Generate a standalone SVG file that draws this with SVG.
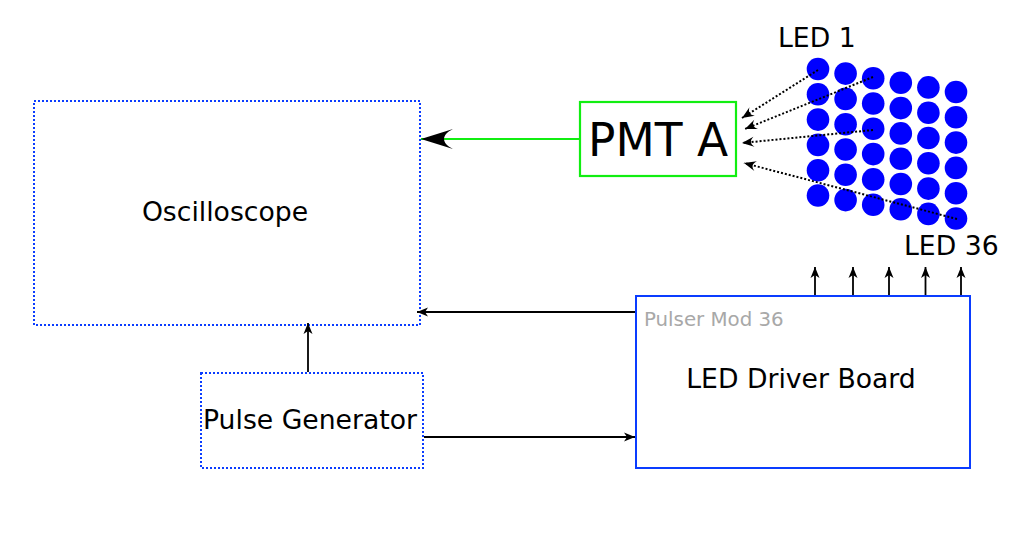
<svg xmlns="http://www.w3.org/2000/svg" width="1031" height="536" viewBox="0 0 1031 536">
<style>
text{font-family:"DejaVu Sans","Liberation Sans",sans-serif;fill:#000}
.lbl{font-size:26.67px}
.dotbox{fill:#fff;stroke:#0a3cff;stroke-width:2;stroke-dasharray:2 2}
.led{fill:#0000ff}
.wire{stroke:#000;stroke-width:1.8;fill:none;marker-end:url(#sm)}
.ray{stroke:#000;stroke-width:2;fill:none;stroke-dasharray:2 2;marker-end:url(#md)}
</style>
<defs>
<marker id="sm" markerUnits="userSpaceOnUse" orient="auto" markerWidth="14" markerHeight="12" viewBox="-12 -6 14 12" refX="0" refY="0" overflow="visible">
<path d="M0,0 L-11,-4.5 L-8,0 L-11,4.5 Z" fill="#000"/>
</marker>
<marker id="md" markerUnits="userSpaceOnUse" orient="auto" markerWidth="14" markerHeight="12" viewBox="-12 -6 14 12" refX="0" refY="0" overflow="visible">
<path d="M0,0 L-12,-5 C-8,-1.5 -8,1.5 -12,5 Z" fill="#000"/>
</marker>
<marker id="lg" markerUnits="userSpaceOnUse" orient="auto" markerWidth="34" markerHeight="22" viewBox="-33 -11 34 22" refX="0" refY="0" overflow="visible">
<path d="M0,0 L-32,-10 C-20,-4 -20,4 -32,10 Z" fill="#000"/>
</marker>
</defs>

<g id="oscilloscope">
<rect class="dotbox" x="34" y="101" width="386" height="224"/>
<text class="lbl" x="225" y="221" text-anchor="middle">Oscilloscope</text>
</g>

<g id="pmt">
<rect x="580" y="102" width="156" height="74" fill="#fff" stroke="#11ee11" stroke-width="2.2"/>
<text x="658" y="156" font-size="45.5" text-anchor="middle">PMT A</text>
</g>

<g id="pulse-generator">
<rect class="dotbox" x="201" y="373" width="222" height="95"/>
<text class="lbl" x="310" y="429" text-anchor="middle">Pulse Generator</text>
</g>

<g id="led-driver">
<rect x="636" y="296" width="334" height="172" fill="#fff" stroke="#0a3cff" stroke-width="2"/>
<text x="644" y="326" font-size="19.8" style="fill:#a8a8a8">Pulser Mod 36</text>
<text class="lbl" x="801" y="388" text-anchor="middle">LED Driver Board</text>
</g>

<g id="led-array">
<g transform="translate(818,69)">
<circle class="led" cx="0" cy="0" r="11.3"/><circle class="led" cx="0" cy="25.3" r="11.3"/><circle class="led" cx="0" cy="50.6" r="11.3"/><circle class="led" cx="0" cy="75.9" r="11.3"/><circle class="led" cx="0" cy="101.2" r="11.3"/><circle class="led" cx="0" cy="126.5" r="11.3"/>
</g>
<g transform="translate(845.6,73.6)">
<circle class="led" cx="0" cy="0" r="11.3"/><circle class="led" cx="0" cy="25.3" r="11.3"/><circle class="led" cx="0" cy="50.6" r="11.3"/><circle class="led" cx="0" cy="75.9" r="11.3"/><circle class="led" cx="0" cy="101.2" r="11.3"/><circle class="led" cx="0" cy="126.5" r="11.3"/>
</g>
<g transform="translate(873.2,78.2)">
<circle class="led" cx="0" cy="0" r="11.3"/><circle class="led" cx="0" cy="25.3" r="11.3"/><circle class="led" cx="0" cy="50.6" r="11.3"/><circle class="led" cx="0" cy="75.9" r="11.3"/><circle class="led" cx="0" cy="101.2" r="11.3"/><circle class="led" cx="0" cy="126.5" r="11.3"/>
</g>
<g transform="translate(900.8,82.8)">
<circle class="led" cx="0" cy="0" r="11.3"/><circle class="led" cx="0" cy="25.3" r="11.3"/><circle class="led" cx="0" cy="50.6" r="11.3"/><circle class="led" cx="0" cy="75.9" r="11.3"/><circle class="led" cx="0" cy="101.2" r="11.3"/><circle class="led" cx="0" cy="126.5" r="11.3"/>
</g>
<g transform="translate(928.4,87.4)">
<circle class="led" cx="0" cy="0" r="11.3"/><circle class="led" cx="0" cy="25.3" r="11.3"/><circle class="led" cx="0" cy="50.6" r="11.3"/><circle class="led" cx="0" cy="75.9" r="11.3"/><circle class="led" cx="0" cy="101.2" r="11.3"/><circle class="led" cx="0" cy="126.5" r="11.3"/>
</g>
<g transform="translate(956,92)">
<circle class="led" cx="0" cy="0" r="11.3"/><circle class="led" cx="0" cy="25.3" r="11.3"/><circle class="led" cx="0" cy="50.6" r="11.3"/><circle class="led" cx="0" cy="75.9" r="11.3"/><circle class="led" cx="0" cy="101.2" r="11.3"/><circle class="led" cx="0" cy="126.5" r="11.3"/>
</g>
<text class="lbl" x="778" y="47">LED 1</text>
<text class="lbl" x="904" y="255">LED 36</text>
</g>

<g id="connectors">
<path d="M579,139 L421,139" stroke="#11ee11" stroke-width="2.2" fill="none" marker-end="url(#lg)"/>
<path class="ray" d="M818,70 L742,118"/>
<path class="ray" d="M873,77 L745,129"/>
<path class="ray" d="M873,130 L742,143"/>
<path class="ray" d="M957,219 L744,163"/>
<path class="wire" d="M635,312 L417,312"/>
<path class="wire" d="M308,372 L308,323"/>
<path class="wire" d="M424,437 L635,437"/>
<path class="wire" d="M815,295 L815,267"/>
<path class="wire" d="M853,295 L853,267"/>
<path class="wire" d="M889,295 L889,267"/>
<path class="wire" d="M925.5,295 L925.5,267"/>
<path class="wire" d="M961,295 L961,267"/>
</g>
</svg>
